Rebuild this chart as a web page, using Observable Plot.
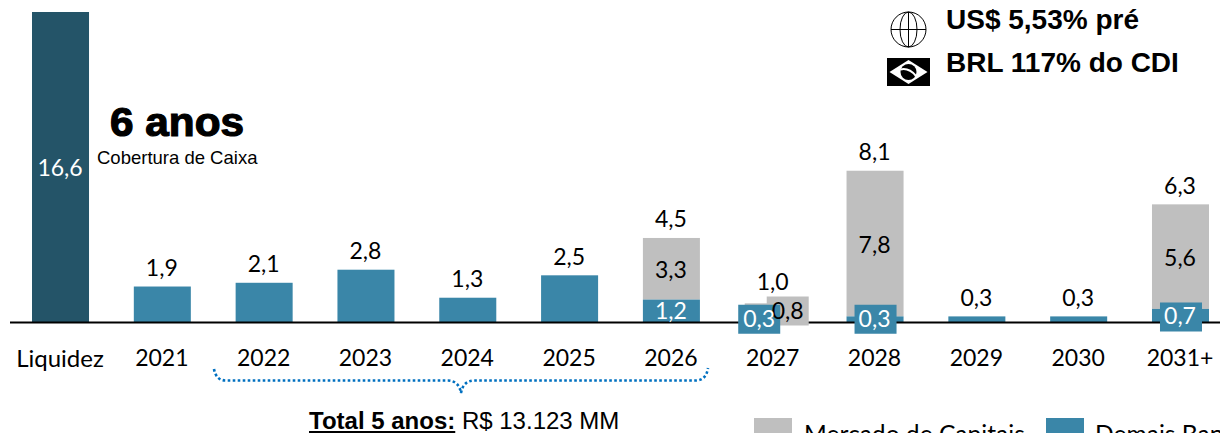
<!DOCTYPE html>
<html lang="pt-BR">
<head>
<meta charset="utf-8">
<title>Cronograma de amortização</title>
<script src="https://cdn.jsdelivr.net/npm/d3@7"></script>
<script src="https://cdn.jsdelivr.net/npm/@observablehq/plot@0.6"></script>
<style>
html,body{margin:0;padding:0;background:#fff;width:1220px;height:433px;overflow:hidden}
#wrap{position:relative;width:1220px;height:433px;overflow:hidden}
#wrap>svg{position:absolute;left:0;top:0;display:block}
#notes{pointer-events:none}
</style>
</head>
<body>
<div id="wrap">
<svg id="notes" width="1220" height="433" viewBox="0 0 1220 433" xmlns="http://www.w3.org/2000/svg">
  <g font-family="'Liberation Sans',Arial,sans-serif" fill="#000">
    <text x="110" y="136" font-size="40" font-weight="700" stroke="#000" stroke-width="1.2" textLength="134" lengthAdjust="spacingAndGlyphs">6 anos</text>
    <text x="97" y="164" font-size="18.5">Cobertura de Caixa</text>
    <text x="946" y="28.5" font-size="28" font-weight="700">US$ 5,53% pré</text>
    <text x="946" y="71.5" font-size="28" font-weight="700">BRL 117% do CDI</text>
    <text x="309" y="429" font-size="24"><tspan font-weight="700" text-decoration="underline">Total 5 anos:</tspan> R$ 13.123 MM</text>
  </g>
  <g fill="none" stroke="#000" stroke-width="1">
    <circle cx="908.5" cy="29.5" r="17.5"/>
    <ellipse cx="908.5" cy="29.5" rx="8.5" ry="17.5"/>
    <path d="M908.5 12V47M891 29.5H926"/>
  </g>
  <rect x="887" y="58" width="43" height="28" fill="#000"/>
  <path d="M889.5 72L908.5 60L927.5 72L908.5 84Z" fill="#fff"/>
  <circle cx="908.5" cy="72" r="8" fill="#000"/>
  <path d="M900.5 69.5Q909 67.5 916 76" fill="none" stroke="#fff" stroke-width="2"/>
  <path d="M214 369Q216 380.5 226 380.5H448Q459 381 461 393Q463 381 474 380.5H696Q706 380.5 708 368" fill="none" stroke="#0070C0" stroke-width="2.6" stroke-dasharray="2.6 2.4"/>
</svg>
<svg id="legend" width="1220" height="433" viewBox="0 0 1220 433" xmlns="http://www.w3.org/2000/svg" style="pointer-events:none">
  <rect x="754" y="418" width="38" height="30" fill="#BFBFBF"/>
  <text x="804" y="443" font-family="Lato,sans-serif" font-size="24.6" fill="#000">Mercado de Capitais</text>
  <rect x="1046" y="418" width="38" height="30" fill="#3A86A8"/>
  <text x="1095" y="443" font-family="Lato,sans-serif" font-size="24.6" fill="#000">Demais Bancos</text>
</svg>
</div>
<script>
// Valores (R$ bilhões)
const periods = ["Liquidez","2021","2022","2023","2024","2025","2026","2027","2028","2029","2030","2031+"];
const totals  = [16.6,1.9,2.1,2.8,1.3,2.5,4.5,1.0,8.1,0.3,0.3,6.3];
const banks   = [0,1.9,2.1,2.8,1.3,2.5,1.2,0.3,0.3,0.3,0.3,0.7];
const capital = [0,0,0,0,0,0,3.3,0.8,7.8,0,0,5.6];
const cash    = [16.6,0,0,0,0,0,0,0,0,0,0,0];

const rows = periods.map((p,i)=>({period:p,total:totals[i],banks:banks[i],capital:capital[i],cash:cash[i]}));
const fmt = v => v.toFixed(1).replace(".",",");
const by = (...names) => rows.filter(r=>names.includes(r.period));

const BLUE="#3A86A8", GRAY="#BFBFBF", DARK="#245468";
const FONT="Lato, sans-serif", FS=23;
const box = {draw(c){c.rect(-21,-14.5,42,29);}};

const chart = Plot.plot({
  width:1220, height:433,
  marginLeft:10, marginRight:0, marginTop:12, marginBottom:111,
  style:{background:"transparent",fontFamily:FONT,color:"#000",overflow:"visible"},
  x:{type:"band",domain:periods,range:[9.6,1231.4],paddingInner:0.44,paddingOuter:0.22,align:0.5,round:false,label:null,axis:null},
  y:{domain:[0,16.6],range:[322,12],label:null,axis:null},
  marks:[
    // barras
    Plot.barY(rows.filter(r=>r.cash>0),{x:"period",y1:0,y2:"cash",fill:DARK}),
    Plot.barY(rows.filter(r=>r.capital>0),{x:"period",y1:"banks",y2:"total",fill:GRAY}),
    Plot.barY(rows.filter(r=>r.banks>0),{x:"period",y1:0,y2:"banks",fill:BLUE}),
    // eixo
    Plot.ruleY([0],{stroke:"#000",strokeWidth:2}),
    Plot.axisX(periods.slice(0,1),{tickSize:0,tickPadding:27,fontSize:24,fontFamily:FONT,fill:"#000",label:null,anchor:"bottom",dx:-1}),
    Plot.axisX(periods.slice(1),{tickSize:0,tickPadding:27,fontSize:FS,fontFamily:FONT,fill:"#000",label:null,anchor:"bottom",dx:-1}),
    // caixas de rótulo
    Plot.dot(by("2027"),{x:"period",y:r=>r.banks+r.capital/2,symbol:box,r:1,fill:GRAY,dx:14,dy:1.5}),
    Plot.dot(by("2027"),{x:"period",y:r=>r.banks/2,symbol:box,r:1,fill:BLUE,dx:-14.5,dy:-0.5}),
    Plot.dot(by("2028"),{x:"period",y:r=>r.banks/2,symbol:box,r:1,fill:BLUE,dy:-0.5}),
    Plot.dot(by("2031+"),{x:"period",y:r=>r.banks/2,symbol:box,r:1,fill:BLUE,dy:1}),
    // totais
    Plot.text(rows.filter(r=>r.cash===0&&r.period!=="2027"),{x:"period",y:"total",text:r=>fmt(r.total),lineAnchor:"bottom",dx:-1,dy:-11,fontSize:FS,fill:"#000"}),
    Plot.text(by("2027"),{x:"period",y:"total",text:r=>fmt(r.total),lineAnchor:"bottom",dx:-1,dy:-14,fontSize:FS,fill:"#000"}),
    // rótulos internos
    Plot.text(by("Liquidez"),{x:"period",y:r=>r.cash/2,text:r=>fmt(r.cash),fontSize:FS,fill:"#fff",dx:-1,dy:1}),
    Plot.text(by("2026","2028","2031+"),{x:"period",y:r=>r.banks+r.capital/2,text:r=>fmt(r.capital),fontSize:FS,fill:"#000",dx:-1,dy:1.5}),
    Plot.text(by("2027"),{x:"period",y:r=>r.banks+r.capital/2,text:r=>fmt(r.capital),fontSize:FS,fill:"#000",dx:14,dy:2}),
    Plot.text(by("2026"),{x:"period",y:r=>r.banks/2,text:r=>fmt(r.banks),fontSize:FS,fill:"#fff",dx:-1}),
    Plot.text(by("2027"),{x:"period",y:r=>r.banks/2,text:r=>fmt(r.banks),fontSize:FS,fill:"#fff",dx:-14.5,dy:-0.5}),
    Plot.text(by("2028"),{x:"period",y:r=>r.banks/2,text:r=>fmt(r.banks),fontSize:FS,fill:"#fff",dx:-1,dy:-0.5}),
    Plot.text(by("2031+"),{x:"period",y:r=>r.banks/2,text:r=>fmt(r.banks),fontSize:FS,fill:"#fff",dx:-1,dy:1})
  ]
});
const wrap=document.getElementById("wrap");
wrap.insertBefore(chart,wrap.firstChild);
</script>
</body>
</html>
